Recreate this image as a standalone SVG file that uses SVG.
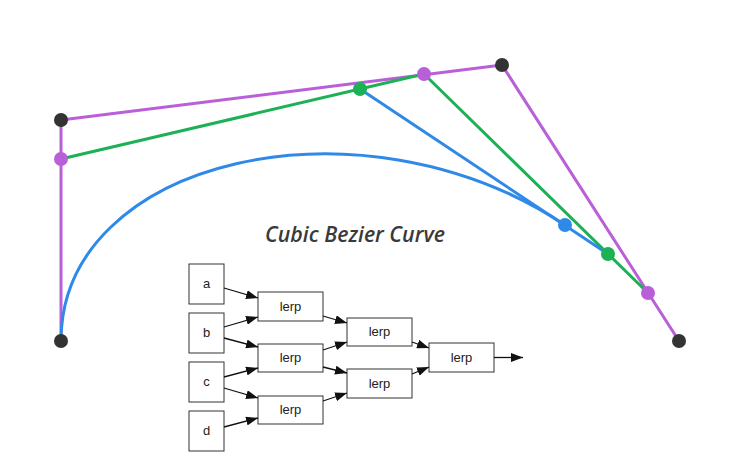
<svg xmlns="http://www.w3.org/2000/svg" width="735" height="467" viewBox="0 0 735 467">
<style>
.pur{stroke:#b95fd8;stroke-width:3;fill:none;stroke-linejoin:round}
.grn{stroke:#1cb155;stroke-width:3;fill:none;stroke-linejoin:round}
.blu{stroke:#2f89e9;stroke-width:3;fill:none}
.dk{fill:#333333}.dp{fill:#b95fd8}.dg{fill:#1cb155}.db{fill:#2f89e9}
.box rect{fill:#ffffff;stroke:#333333;stroke-width:1}
.box text{font-family:"Liberation Sans",Arial,sans-serif;font-size:13px;fill:#222222;text-anchor:middle}
.conn line{stroke:#111111;stroke-width:1.3;marker-end:url(#ah)}
.title{font-family:"Open Sans","DejaVu Sans",sans-serif;font-style:italic;font-weight:600;font-size:22px;fill:#3a3a3a}
</style>
<defs>
<marker id="ah" viewBox="0 0 12 9" refX="12" refY="4.5" markerWidth="12" markerHeight="9" markerUnits="userSpaceOnUse" orient="auto">
<path d="M0,0 L12,4.5 L0,9 z" fill="#111111"/>
</marker>
</defs>
<rect width="735" height="467" fill="#ffffff"/>
<g id="bezier">
<polyline class="pur" points="61,341 61,120 502,65 679,341"/>
<polyline class="grn" points="61,159 424,74 648,293"/>
<line class="blu" x1="360" y1="89" x2="608" y2="254"/>
<path class="blu" d="M61,341 C61,159 360,89 565,225"/>
<circle class="dk" cx="61" cy="341" r="7"/>
<circle class="dk" cx="61" cy="120" r="7"/>
<circle class="dk" cx="502" cy="65" r="7"/>
<circle class="dk" cx="679" cy="341" r="7"/>
<circle class="dp" cx="61" cy="159" r="7"/>
<circle class="dp" cx="424" cy="74" r="7"/>
<circle class="dp" cx="648" cy="293" r="7"/>
<circle class="dg" cx="360" cy="89" r="7"/>
<circle class="dg" cx="608" cy="254" r="7"/>
<circle class="db" cx="565" cy="225" r="7"/>
</g>
<text class="title" x="265" y="242" textLength="180" lengthAdjust="spacingAndGlyphs">Cubic Bezier Curve</text>
<g id="a" class="box"><rect x="189" y="264" width="35" height="40"/><text x="206.5" y="288">a</text></g>
<g id="b" class="box"><rect x="189" y="313" width="35" height="40"/><text x="206.5" y="337">b</text></g>
<g id="c" class="box"><rect x="189" y="362" width="35" height="40"/><text x="206.5" y="386">c</text></g>
<g id="d" class="box"><rect x="189" y="411" width="35" height="40"/><text x="206.5" y="435">d</text></g>
<g id="lerp1" class="box"><rect x="258" y="292" width="65" height="29"/><text x="290.5" y="311">lerp</text></g>
<g id="lerp2" class="box"><rect x="258" y="344" width="65" height="28"/><text x="290.5" y="362">lerp</text></g>
<g id="lerp3" class="box"><rect x="258" y="396" width="65" height="28"/><text x="290.5" y="414">lerp</text></g>
<g id="lerp4" class="box"><rect x="347" y="318" width="65" height="28"/><text x="379.5" y="336">lerp</text></g>
<g id="lerp5" class="box"><rect x="347" y="369" width="65" height="29"/><text x="379.5" y="388">lerp</text></g>
<g id="lerp6" class="box"><rect x="429" y="343" width="65" height="29"/><text x="461.5" y="362">lerp</text></g>
<g id="connectors" class="conn">
<line x1="224" y1="288" x2="258" y2="298"/>
<line x1="224" y1="327" x2="258" y2="317"/>
<line x1="224" y1="338" x2="258" y2="347"/>
<line x1="224" y1="377" x2="258" y2="368"/>
<line x1="224" y1="388" x2="258" y2="398"/>
<line x1="224" y1="427" x2="258" y2="418"/>
<line x1="323" y1="316" x2="347" y2="323"/>
<line x1="323" y1="350" x2="347" y2="342"/>
<line x1="323" y1="367" x2="347" y2="373"/>
<line x1="323" y1="401" x2="347" y2="393"/>
<line x1="412" y1="342" x2="429" y2="348"/>
<line x1="412" y1="374" x2="429" y2="367"/>
<line x1="494" y1="357.5" x2="523" y2="357.5"/>
</g>
</svg>
